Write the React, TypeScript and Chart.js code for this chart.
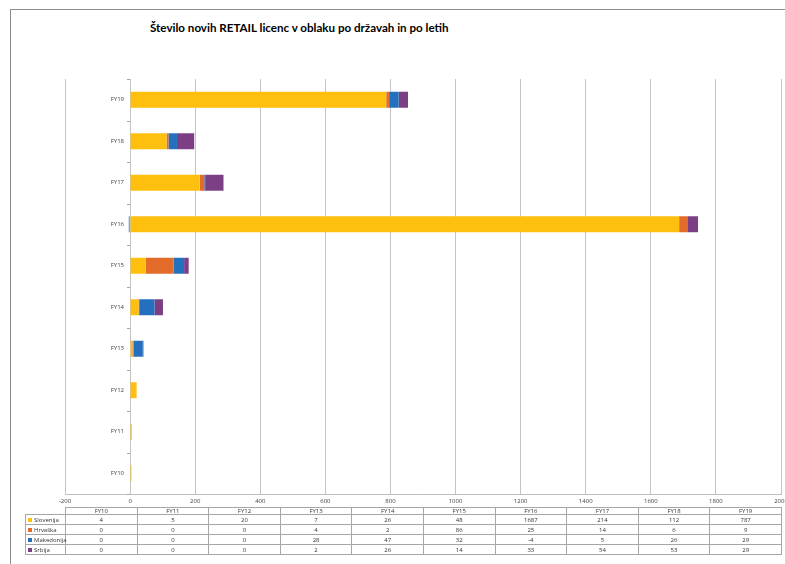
import React, { useEffect, useRef } from "react";
import { Chart, registerables } from "chart.js";
Chart.register(...registerables);

const titleText = "Število novih RETAIL licenc v oblaku po državah in po letih";
const categories = ["FY10", "FY11", "FY12", "FY13", "FY14", "FY15", "FY16", "FY17", "FY18", "FY19"];
const seriesNames = ["Slovenija", "Hrvaška", "Makedonija", "Srbija"];
const slovenija = [4, 5, 20, 7, 26, 48, 1687, 214, 112, 787];
const hrvaska = [0, 0, 0, 4, 2, 86, 25, 14, 6, 9];
const makedonija = [0, 0, 0, 28, 47, 32, -4, 5, 26, 29];
const srbija = [0, 0, 0, 2, 26, 14, 33, 54, 53, 29];
const seriesValues = [slovenija, hrvaska, makedonija, srbija];
const seriesColors = ["#FFBF0F", "#E46C2A", "#2270BE", "#7C3F86"];
const xMin = -200;
const xMax = 2000;
const xStep = 200;

const FONT = '"Open Sans", "DejaVu Sans", sans-serif';

export default function App() {
  const ref = useRef<HTMLCanvasElement>(null);

  useEffect(() => {
    const canvas = ref.current;
    if (!canvas) return;
    const yLabelPlugin = {
      id: "yLabels",
      afterDraw(chart: any) {
        const { ctx, scales } = chart;
        const x = scales.x;
        const y = scales.y;
        const x0 = Math.round(x.getPixelForValue(0));
        ctx.save();
        ctx.font = `6px ${FONT}`;
        ctx.fillStyle = "#404040";
        ctx.textAlign = "right";
        ctx.textBaseline = "middle";
        categories.forEach((c, i) => ctx.fillText(c, x0 - 6, y.getPixelForValue(i)));
        ctx.strokeStyle = "#a6a6a6";
        ctx.lineWidth = 1;
        for (let i = 0; i <= categories.length; i++) {
          const yy = Math.round(y.getPixelForValue(i - 0.5)) + 0.5;
          ctx.beginPath();
          ctx.moveTo(x0 - 3, yy);
          ctx.lineTo(x0, yy);
          ctx.stroke();
        }
        ctx.restore();
      },
    };

    const chart = new Chart(canvas, {
      type: "bar",
      data: {
        labels: categories,
        datasets: seriesNames.map((name, i) => ({
          label: name,
          data: seriesValues[i],
          backgroundColor: seriesColors[i],
          borderWidth: 0,
          barPercentage: 0.385,
          categoryPercentage: 1,
        })),
      },
      options: {
        indexAxis: "y",
        animation: false,
        responsive: false,
        devicePixelRatio: 1,
        layout: { padding: { left: 65, right: 4, top: 79, bottom: 56 } },
        plugins: {
          legend: { display: false },
          title: { display: false },
          tooltip: { enabled: false },
        },
        scales: {
          x: {
            stacked: true,
            min: xMin,
            max: xMax,
            ticks: {
              stepSize: xStep,
              font: { family: FONT, size: 6 },
              color: "#404040",
              padding: 4,
              maxRotation: 0,
              callback: (v: any) => String(v),
            },
            grid: { color: "#c4c4c4", lineWidth: 1, drawTicks: false },
            border: { display: true, color: "#bfbfbf" },
            afterFit(scale: any) {
              scale.height = 14;
              scale.paddingLeft = 0;
              scale.paddingRight = 0;
            },
          },
          y: {
            stacked: true,
            reverse: true,
            display: false,
            grid: { display: false },
          },
        },
      },
      plugins: [yLabelPlugin],
    } as any);
    return () => chart.destroy();
  }, []);

  const colW = (781 - 65) / categories.length;
  const cellBorder = "1px solid #a6a6a6";

  return (
    <div
      style={{
        position: "absolute",
        left: 0,
        top: 0,
        width: 785,
        height: 564,
        overflow: "hidden",
        background: "#fff",
        fontFamily: FONT,
      }}
    >
      <div
        style={{
          position: "absolute",
          left: 10,
          top: 9,
          width: 900,
          height: 700,
          border: "1px solid #8c8c8c",
        }}
      />
      <div
        style={{
          position: "absolute",
          left: 150,
          top: 21,
          fontFamily: "Lato, sans-serif",
          fontWeight: 700,
          fontSize: 11.6,
          color: "#000",
          whiteSpace: "nowrap",
        }}
      >
        {titleText}
      </div>
      <canvas
        ref={ref}
        width={785}
        height={564}
        style={{ position: "absolute", left: 0, top: 0, width: 785, height: 564 }}
      />
      <table
        style={{
          position: "absolute",
          left: 25,
          top: 507,
          borderCollapse: "collapse",
          tableLayout: "fixed",
          width: 40 + colW * categories.length,
          fontSize: 6,
          color: "#333",
          fontFamily: FONT,
        }}
      >
        <colgroup>
          <col style={{ width: 40 }} />
          {categories.map((c) => (
            <col key={c} style={{ width: colW }} />
          ))}
        </colgroup>
        <tbody>
          <tr style={{ height: 7 }}>
            <td style={{ padding: 0 }} />
            {categories.map((c) => (
              <td key={c} style={{ border: cellBorder, padding: 0, textAlign: "center", lineHeight: "6px" }}>
                {c}
              </td>
            ))}
          </tr>
          {seriesNames.map((name, si) => (
            <tr key={name} style={{ height: 10 }}>
              <td style={{ border: cellBorder, padding: "0 0 0 2px", whiteSpace: "nowrap", lineHeight: "8px" }}>
                <span
                  style={{
                    display: "inline-block",
                    width: 4,
                    height: 4,
                    background: seriesColors[si],
                    marginRight: 2,
                    verticalAlign: "middle",
                  }}
                />
                {name}
              </td>
              {seriesValues[si].map((v, ci) => (
                <td key={ci} style={{ border: cellBorder, padding: 0, textAlign: "center", lineHeight: "8px" }}>
                  {v}
                </td>
              ))}
            </tr>
          ))}
        </tbody>
      </table>
    </div>
  );
}
